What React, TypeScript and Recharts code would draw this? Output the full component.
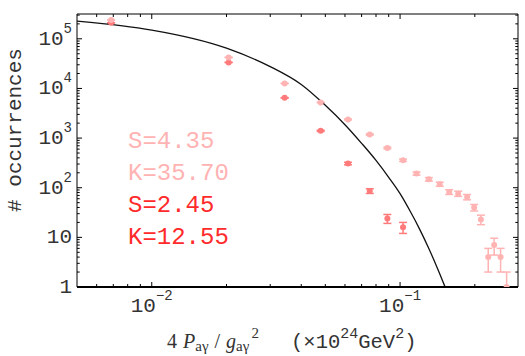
import { ComposedChart, Scatter, Line, XAxis, YAxis, ErrorBar } from 'recharts'

// histogram bin centres (GeV^2 x 1e-24)
const binCenters = [0.00686, 0.0204, 0.0343, 0.0479, 0.0617, 0.0755, 0.0889, 0.1028, 0.1165, 0.1306, 0.1445, 0.1577, 0.1714, 0.1862, 0.1988, 0.2116, 0.2265, 0.2393, 0.254, 0.2686]

// light series, S=4.35 K=35.70
const wideCounts = [238000, 42200, 12600, 5220, 2370, 1183, 634, 358, 193, 148, 118, 82, 76, 65, 40, 23, 4, 7, 4, 1]
const wideErrors: (number | number[])[] = [488, 205, 112, 72, 49, 34, 25, 19, 14, 12, 11, 9, 9, 8, 6, 5, 2, 2.6, 2, [0, 1]]

// red series, S=2.45 K=12.55
const narrowCounts = [210000, 33400, 6460, 1400, 307, 86, 24, 16]
const narrowErrors = [458, 183, 80, 37, 17.5, 9.3, 4.9, 4]

// reference curve
const curveX = [0.005, 0.0075, 0.01, 0.02, 0.03, 0.04, 0.05, 0.06, 0.07, 0.08, 0.09, 0.1, 0.11, 0.12, 0.13, 0.14, 0.15, 0.16]
const curveY = [227000, 184500, 149600, 64600, 27500, 12000, 4570, 1860, 785, 355, 162, 75.9, 33.1, 14.5, 6.24, 2.69, 1.16, 0.5]

const xMajor = [0.01, 0.1]
const xMinor = [0.006, 0.007, 0.008, 0.009, 0.02, 0.03, 0.04, 0.05, 0.06, 0.07, 0.08, 0.09, 0.2]
const yMajor = [1, 10, 100, 1000, 10000, 100000]
const yMinor = yMajor.flatMap((d) => [2, 3, 4, 5, 6, 7, 8, 9].map((m) => m * d)).filter((v) => v < 316000)

const xDomain = [0.005, 0.2985]
const yDomain = [1, 316000]

const LIGHT = '#ffb3b3'
const RED_PT = '#ff7b7b'
const RED_TXT = '#ff2a2a'
const MONO = '"Liberation Mono", "Courier New", monospace'
const SERIF = '"Liberation Serif", "Times New Roman", serif'
const LABEL = '#333'

const wideData = binCenters.map((x, i) => ({ x, y: wideCounts[i], err: wideErrors[i] }))
const narrowData = narrowCounts.map((y, i) => ({ x: binCenters[i], y, err: narrowErrors[i] }))
const curveData = curveX.map((x, i) => ({ x, y: curveY[i] }))

const isMajor = (v: number) => Math.abs(Math.log10(v) - Math.round(Math.log10(v))) < 1e-6
const allX = [...xMinor, ...xMajor].sort((a, b) => a - b)
const allY = [...yMinor, ...yMajor].sort((a, b) => a - b)

const BottomTick = (props: any) => {
  const { x, y, payload } = props
  const major = isMajor(payload.value)
  const e = Math.round(Math.log10(payload.value))
  return (
    <g>
      <line x1={x} y1={y} x2={x} y2={y - (major ? 5 : 3)} stroke="#000" />
      {major && (
        <text x={x} y={y + 25} textAnchor="middle" fontFamily={MONO} fontSize={21} fill={LABEL}>
          10<tspan dy={-12} fontSize={14}>{'\u2212' + Math.abs(e)}</tspan>
        </text>
      )}
    </g>
  )
}

const TopTick = (props: any) => {
  const { x, y, payload } = props
  const major = isMajor(payload.value)
  return <line x1={x} y1={y} x2={x} y2={y + (major ? 5 : 3)} stroke="#000" />
}

const LeftTick = (props: any) => {
  const { x, y, payload } = props
  const major = isMajor(payload.value)
  const e = Math.round(Math.log10(payload.value))
  return (
    <g>
      <line x1={x} y1={y} x2={x + (major ? 5 : 2.7)} y2={y} stroke="#000" />
      {major && (
        <text x={x - 5} y={y + 6} textAnchor="end" fontFamily={MONO} fontSize={21} fill={LABEL}>
          {e === 0 ? '1' : '10'}
          {e > 1 && <tspan dy={-12} fontSize={14}>{e}</tspan>}
        </text>
      )}
    </g>
  )
}

const RightTick = (props: any) => {
  const { x, y, payload } = props
  const major = isMajor(payload.value)
  return <line x1={x} y1={y} x2={x - (major ? 5 : 2.7)} y2={y} stroke="#000" />
}

const dot = (fill: string) => (p: any) => <circle cx={p.cx} cy={p.cy} r={3} fill={fill} />

export default function App() {
  return (
    <div style={{ position: 'absolute', left: 0, top: 0, width: 525, height: 356, background: '#fff' }}>
      <ComposedChart width={525} height={356} margin={{ top: 0, right: 0, bottom: 0, left: 0 }}>
        <XAxis
          xAxisId="b"
          dataKey="x"
          type="number"
          scale="log"
          domain={xDomain}
          allowDataOverflow
          ticks={allX}
          interval={0}
          height={69}
          tickSize={0}
          tickMargin={0}
          tick={<BottomTick />}
          axisLine={{ stroke: '#000', strokeWidth: 2 }}
        />
        <XAxis
          xAxisId="t"
          orientation="top"
          dataKey="x"
          type="number"
          scale="log"
          domain={xDomain}
          allowDataOverflow
          ticks={allX}
          interval={0}
          height={14}
          tickSize={0}
          tickMargin={0}
          tick={<TopTick />}
          axisLine={{ stroke: '#000', strokeWidth: 1 }}
        />
        <YAxis
          yAxisId="l"
          dataKey="y"
          type="number"
          scale="log"
          domain={yDomain}
          allowDataOverflow
          ticks={allY}
          interval={0}
          width={77}
          tickSize={0}
          tickMargin={0}
          tick={<LeftTick />}
          axisLine={{ stroke: '#000', strokeWidth: 1 }}
        />
        <YAxis
          yAxisId="r"
          orientation="right"
          dataKey="y"
          type="number"
          scale="log"
          domain={yDomain}
          allowDataOverflow
          ticks={allY}
          interval={0}
          width={7}
          tickSize={0}
          tickMargin={0}
          tick={<RightTick />}
          axisLine={{ stroke: '#000', strokeWidth: 1 }}
        />
        <Scatter data={narrowData} xAxisId="b" yAxisId="l" dataKey="y" fill={RED_PT} shape={dot(RED_PT)} isAnimationActive={false}>
          <ErrorBar dataKey="err" direction="y" width={4} stroke={RED_PT} strokeWidth={1.5} isAnimationActive={false} />
        </Scatter>
        <Scatter data={wideData} xAxisId="b" yAxisId="l" dataKey="y" fill={LIGHT} shape={dot(LIGHT)} isAnimationActive={false}>
          <ErrorBar dataKey="err" direction="y" width={4} stroke={LIGHT} strokeWidth={1.5} isAnimationActive={false} />
        </Scatter>
        <Line data={curveData} xAxisId="t" yAxisId="r" dataKey="y" type="monotone" stroke="#111" strokeWidth={1.3} dot={false} isAnimationActive={false} />
      </ComposedChart>
      <svg width={525} height={356} style={{ position: 'absolute', left: 0, top: 0, pointerEvents: 'none' }}>
        <g fontFamily={MONO} fontSize={24}>
          <text x={128} y={148} fill={LIGHT}>S=4.35</text>
          <text x={128} y={179.5} fill={LIGHT}>K=35.70</text>
          <text x={128} y={212} fill={RED_TXT}>S=2.45</text>
          <text x={128} y={243.5} fill={RED_TXT}>K=12.55</text>
        </g>
        <text transform="rotate(-90)" x={-130} y={21} textAnchor="middle" fontFamily={MONO} fontSize={21} fill={LABEL}>
          # occurrences
        </text>
        <text x={167} y={348} fontFamily={SERIF} fontSize={20} fill={LABEL}>
          4
          <tspan dx={6} fontStyle="italic">P</tspan>
          <tspan dy={3} fontSize={15}>a{'\u03b3'}</tspan>
          <tspan dy={-3} dx={6}>/</tspan>
          <tspan dx={6} fontStyle="italic">g</tspan>
          <tspan dy={3} fontSize={15}>a{'\u03b3'}</tspan>
          <tspan dy={-13} dx={2} fontSize={15}>2</tspan>
        </text>
        <text x={291} y={348} fontFamily={MONO} fontSize={20.5} fill={LABEL}>
          ({'\u00d7'}10<tspan dy={-10} fontSize={15}>24</tspan>
          <tspan dy={10}>GeV</tspan>
          <tspan dy={-10} fontSize={15}>2</tspan>
          <tspan dy={10}>)</tspan>
        </text>
      </svg>
    </div>
  )
}
